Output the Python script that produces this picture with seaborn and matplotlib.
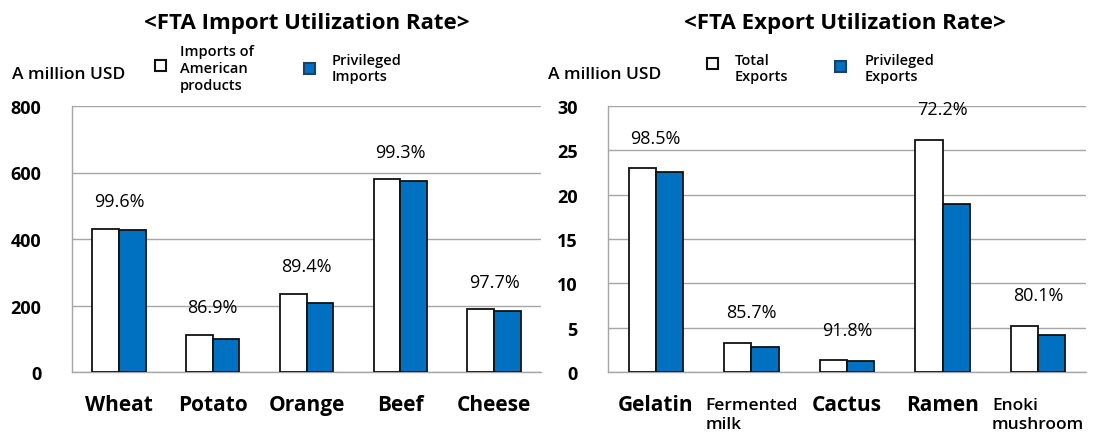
import numpy as np
import pandas as pd
import matplotlib
matplotlib.use("Agg")
import matplotlib.pyplot as plt
from matplotlib.patches import Rectangle
import seaborn as sns

# ---- data -------------------------------------------------------------
import_items = ["Wheat", "Potato", "Orange", "Beef", "Cheese"]
import_total = [430, 112, 235, 579, 188]        # imports of American products
import_privileged = [428, 98, 209, 575, 184]    # privileged imports
import_rates = ["99.6%", "86.9%", "89.4%", "99.3%", "97.7%"]

export_items = ["Gelatin", "Fermented\nmilk", "Cactus", "Ramen", "Enoki\nmushroom"]
export_total = [23.0, 3.3, 1.3, 26.2, 5.2]      # total exports
export_privileged = [22.6, 2.85, 1.2, 19.0, 4.2]  # privileged exports
export_rates = ["98.5%", "85.7%", "91.8%", "72.2%", "80.1%"]

import_ticks = [0, 200, 400, 600, 800]
export_ticks = [0, 5, 10, 15, 20, 25, 30]

# ---- style ------------------------------------------------------------
sns.set_style("white")
plt.rcParams["font.family"] = ["Open Sans", "DejaVu Sans"]
plt.rcParams["text.color"] = "black"
plt.rcParams["xtick.color"] = "black"
plt.rcParams["ytick.color"] = "black"

W, H = 1093, 439
BLUE = "#0070C0"
GRID = "#A6A6A6"

fig = plt.figure(figsize=(W / 100, H / 100), dpi=100)


def fx(px):
    return px / W


def fy(py):
    return 1 - py / H


def draw_panel(ax, items, total, priv, rates, ticks, label_offset):
    df = pd.DataFrame({
        "item": items * 2,
        "value": list(total) + list(priv),
        "series": ["total"] * len(items) + ["priv"] * len(items),
    })
    sns.barplot(data=df, x="item", y="value", hue="series", order=items,
                hue_order=["total", "priv"],
                palette={"total": "white", "priv": BLUE}, saturation=1,
                width=0.57, edgecolor="#111111", linewidth=1.3,
                legend=False, ax=ax, zorder=3)
    for p in ax.patches:
        p.set_zorder(3)

    ax.set_xlim(-0.5, len(items) - 0.5)
    ax.set_ylim(ticks[0], ticks[-1])
    ax.set_yticks(ticks)
    ax.set_yticklabels([str(t) for t in ticks], fontsize=13, fontweight="bold")
    ax.yaxis.grid(True, color=GRID, linewidth=1)
    ax.set_axisbelow(True)
    ax.set_xlabel("")
    ax.set_ylabel("")

    for side in ("top", "right"):
        ax.spines[side].set_visible(False)
    for side in ("left", "bottom"):
        ax.spines[side].set_color(GRID)
        ax.spines[side].set_linewidth(1)

    ax.tick_params(axis="y", length=7, color=GRID, labelcolor="black",
                   width=1, pad=15)
    ax.set_xticks(np.arange(-0.5, len(items), 1), minor=True)
    ax.tick_params(axis="x", which="minor", length=9, color=GRID, width=1)
    ax.tick_params(axis="x", which="major", length=0, pad=16,
                   labelcolor="black")
    ax.set_xticks(range(len(items)))
    labels = ax.set_xticklabels(items, fontsize=15, fontweight="bold", va="top")
    for lab in labels:
        if "\n" in lab.get_text():
            lab.set_fontsize(12.5)
            lab.set_fontweight("semibold")
            lab.set_multialignment("left")
            lab.set_linespacing(1.25)
            lab.set_y(-0.012)

    for i, (t, r) in enumerate(zip(total, rates)):
        ax.annotate(r, xy=(i, t), xytext=(0, label_offset),
                    textcoords="offset points", ha="center", va="center",
                    fontsize=13, color="black")


ax1 = fig.add_axes([fx(72), fy(373), fx(541) - fx(72), fy(107) - fy(373)])
ax2 = fig.add_axes([fx(608), fy(373), fx(1086) - fx(608), fy(107) - fy(373)])

draw_panel(ax1, import_items, import_total, import_privileged, import_rates,
           import_ticks, 20)
draw_panel(ax2, export_items, export_total, export_privileged, export_rates,
           export_ticks, 22)

# ---- titles -----------------------------------------------------------
fig.text(fx(307), fy(24), "<FTA Import Utilization Rate>", ha="center",
         va="center", fontsize=16, fontweight="bold")
fig.text(fx(845), fy(24), "<FTA Export Utilization Rate>", ha="center",
         va="center", fontsize=16, fontweight="bold")

# ---- unit labels and legends -----------------------------------------
for x in (12, 548):
    fig.text(fx(x), fy(75), "A million USD", ha="left", va="center",
             fontsize=12.5, fontweight="semibold")


def legend_box(cx, cy, color, edge):
    s = 11
    fig.add_artist(Rectangle((fx(cx - s / 2), fy(cy + s / 2)), s / W, s / H,
                             transform=fig.transFigure, facecolor=color,
                             edgecolor=edge, linewidth=1.5))


def legend_text(x, cy, text):
    fig.text(fx(x), fy(cy), text, ha="left", va="center", fontsize=10.5,
             fontweight="semibold", linespacing=1.25)


legend_box(160, 66, "white", "#111111")
legend_text(180, 69, "Imports of\nAmerican\nproducts")
legend_box(309, 69, BLUE, "#1f3f66")
legend_text(332, 69, "Privileged\nImports")

legend_box(712, 64, "white", "#111111")
legend_text(735, 69, "Total\nExports")
legend_box(840, 67, BLUE, "#1f3f66")
legend_text(865, 69, "Privileged\nExports")

fig.savefig("out.png", dpi=100)
